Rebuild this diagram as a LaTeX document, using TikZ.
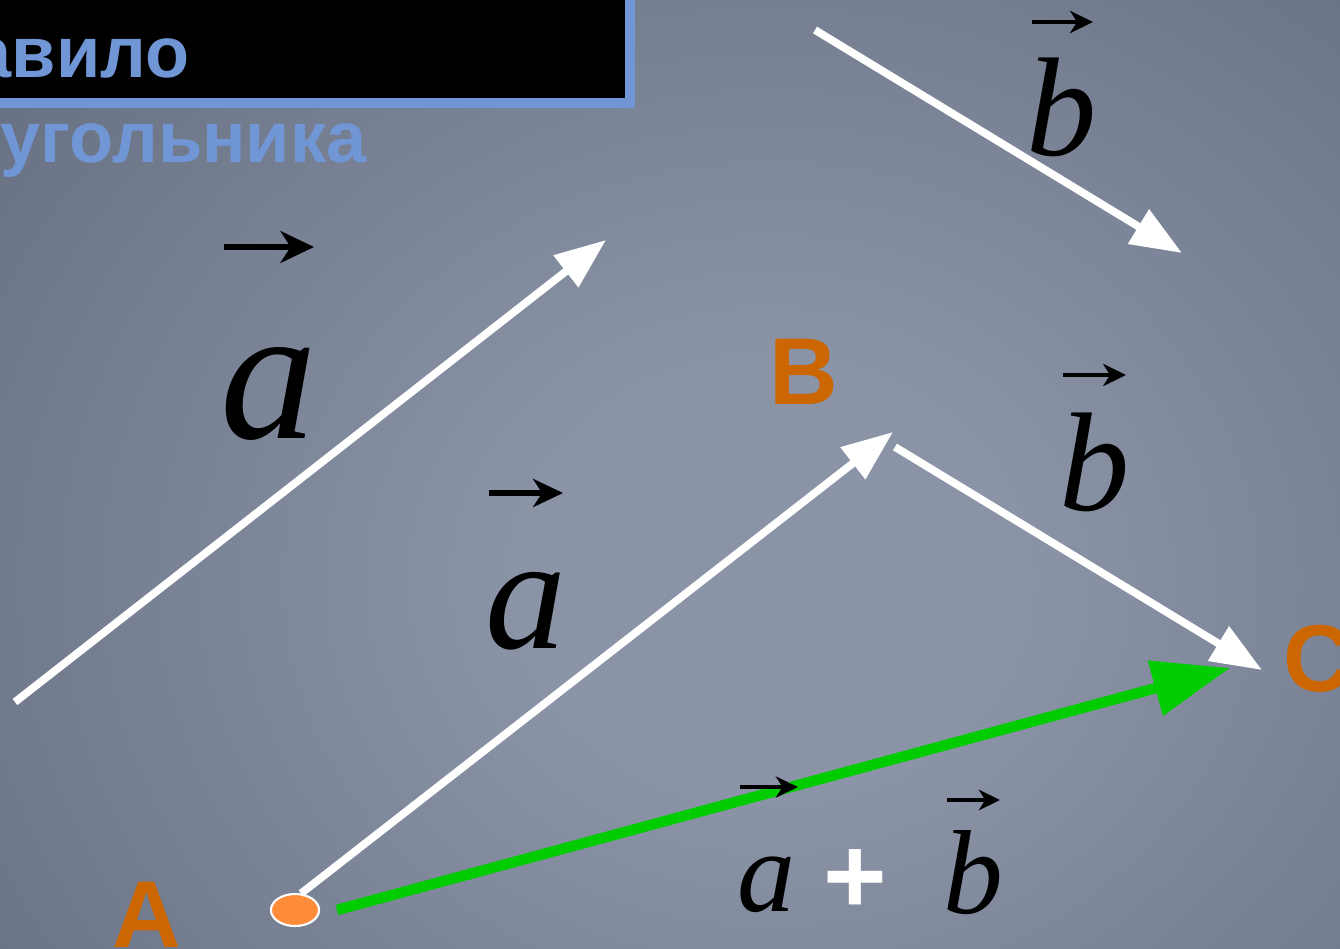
\documentclass[tikz,border=0pt]{standalone}
\usepackage{fontspec}
\setmainfont{Liberation Serif}
\setsansfont{Liberation Sans}
\usetikzlibrary{arrows.meta, positioning, shapes.geometric}
\definecolor{bgin}{RGB}{138,148,166}
\definecolor{bgout}{RGB}{62,70,88}
\definecolor{titleblue}{RGB}{112,150,214}
\definecolor{ptorange}{RGB}{204,102,0}
\definecolor{dotorange}{RGB}{255,140,58}
\definecolor{sumgreen}{RGB}{0,204,0}
\pgfdeclareradialshading{bgglow}{\pgfpoint{0bp}{0bp}}{color(0bp)=(bgin); color(6bp)=(bgin); color(44bp)=(bgout); color(50bp)=(bgout)}
\tikzset{
  titleframe/.style={draw=titleblue, fill=black, line width=3.1pt},
  titletext/.style={font=\sffamily\bfseries\fontsize{20.5}{20.5}\selectfont,
    text=titleblue, inner sep=0pt, anchor=base east},
  ptlabel/.style={font=\sffamily\bfseries\fontsize{27}{27}\selectfont,
    text=ptorange, inner sep=0pt, anchor=base},
  vecletter/.style={font=\itshape\fontsize{#1}{#1}\selectfont,
    inner sep=0pt, anchor=base},
  overarrow/.style n args={3}{draw=black, line width=#1,
    -{Stealth[length=#2, width=#3, inset=0.3*#2]}},
  vecarrow/.style={draw=white, line width=2.2pt,
    -{Triangle[length=14.5pt, width=11pt]}},
  sumarrow/.style={draw=sumgreen, line width=3pt,
    -{Triangle[length=22pt, width=15.5pt]}},
  dot/.style={ellipse, draw=white, line width=0.6pt, fill=dotorange,
    minimum width=13.7pt, minimum height=9.1pt, inner sep=0pt}
}
\begin{document}
\begin{tikzpicture}[x=0.01cm, y=-0.01cm]
  \useasboundingbox (0,0) rectangle (1340,949);
  \clip (0,0) rectangle (1340,949);
  % background
  \shade[shading=bgglow] (-280,-320) rectangle (1820,1480);

  % title
  \draw[titleframe] (-30,-30) rectangle (630,103);
  \node[titletext] (title1) at (190,78) {Правило};
  \node[titletext] (title2) at (367,163) {треугольника};

  % free vectors
  \coordinate (a0) at (15,702);
  \coordinate (a1) at (606,240);
  \coordinate (b0) at (815,30);
  \coordinate (b1) at (1182,253);
  \draw[vecarrow] (a0) -- (a1);
  \draw[vecarrow] (b0) -- (b1);

  \node[vecletter=55] (la) at (269,438) {a};
  \draw[overarrow={1.7pt}{9.5pt}{9pt}] ([shift={(-45,-191)}]la.base) -- ++(90,0);
  \node[vecletter=40] (lb) at (1062,156) {b};
  \draw[overarrow={1.2pt}{6.5pt}{6.3pt}] ([shift={(-30,-134)}]lb.base) -- ++(61,0);

  % triangle ABC
  \node[dot] (Adot) at (295,910) {};
  \coordinate (B) at (893,432);
  \coordinate (Bs) at (895,447);
  \coordinate (C) at (1262,670);
  \coordinate (As) at (337,910);
  \coordinate (Cg) at (1230,668);
  \draw[vecarrow] (Adot.70) -- (B);
  \draw[vecarrow] (Bs) -- (C);
  \draw[sumarrow] (As) -- (Cg);

  \node[ptlabel] (labA) at (147,947) {A};
  \node[ptlabel] (labB) at (804,404) {B};
  \node[ptlabel] (labC) at (1318,691) {C};

  \node[vecletter=46] (la2) at (526,648) {a};
  \draw[overarrow={1.5pt}{8.5pt}{8pt}] ([shift={(-37,-155)}]la2.base) -- ++(74,0);
  \node[vecletter=40] (lb2) at (1095,510) {b};
  \draw[overarrow={1.2pt}{6.5pt}{6.3pt}] ([shift={(-32,-135)}]lb2.base) -- ++(63,0);

  % sum label
  \node[vecletter=33] (la3) at (766,911) {a};
  \draw[overarrow={1.2pt}{6.3pt}{6pt}] ([shift={(-26,-124)}]la3.base) -- ++(58,0);
  \node[font=\sffamily\bfseries\fontsize{31}{31}\selectfont, text=white,
    inner sep=0pt] (plus) at (855,882) {+};
  \node[vecletter=34] (lb3) at (973,913) {b};
  \draw[overarrow={1.1pt}{6pt}{5.8pt}] ([shift={(-26,-113)}]lb3.base) -- ++(53,0);
\end{tikzpicture}
\end{document}
